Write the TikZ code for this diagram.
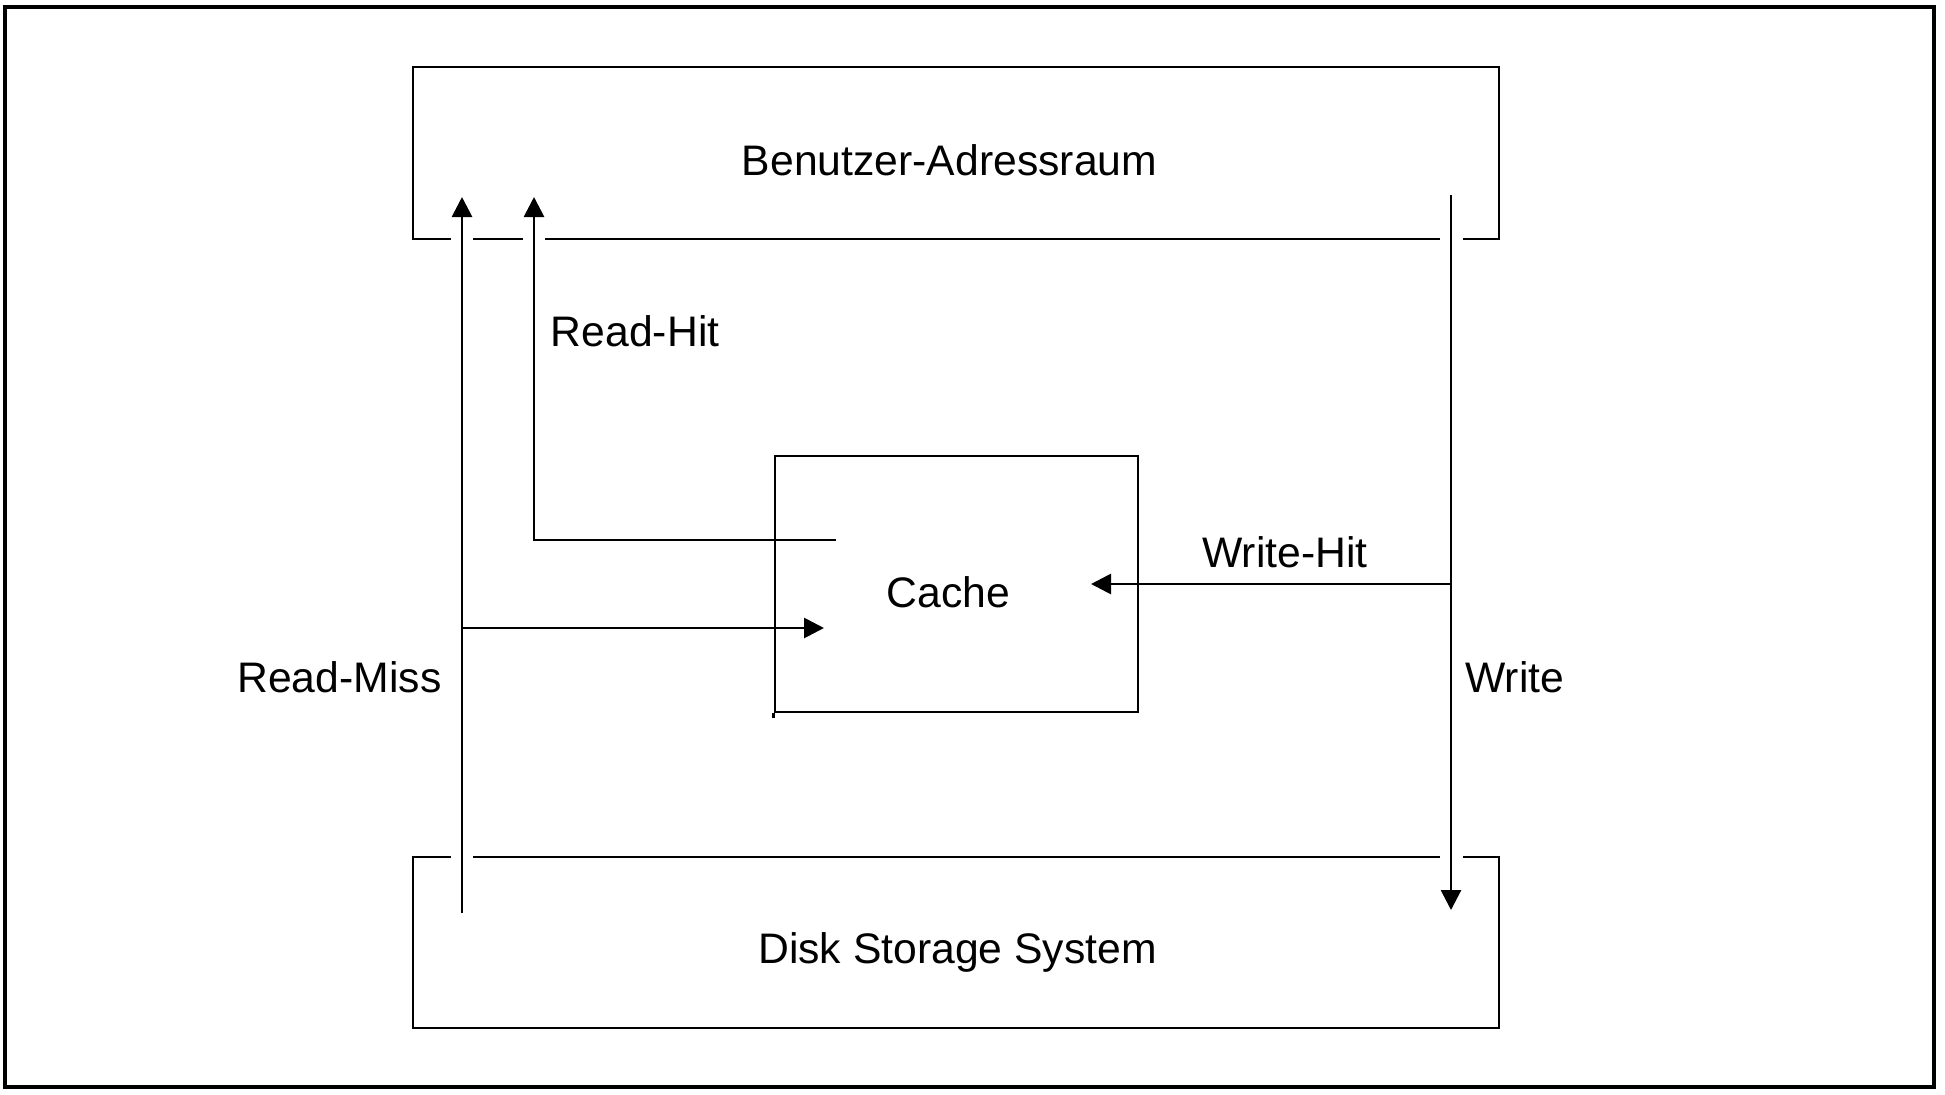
\documentclass[tikz,border=0pt]{standalone}
\usepackage{fontspec}
\setmainfont{Liberation Sans}
\usetikzlibrary{arrows.meta}
\begin{document}
\begin{tikzpicture}[x=0.5pt,y=-0.5pt, line width=1.4pt,
  arr/.style={-{Triangle[length=10pt,width=10pt]}},
  lbl/.style={inner sep=0pt, font=\fontsize{21.35pt}{25pt}\selectfont}]
\useasboundingbox (0,0) rectangle (1945,1094);
% outer frame
\draw[line width=1.8pt] (5,6.7) rectangle (1934,1087);

% user address space box (with gaps)
\coordinate (uTL) at (413,67);
\coordinate (uTR) at (1499,67);
\coordinate (uBR) at (1499,239);
\coordinate (uBL) at (413,239);
\draw (1463,239) -- (uBR) -- (uTR) -- (uTL) -- (uBL) -- (451,239);
\draw (473,239) -- (523,239);
\draw (545,239) -- (1440,239);

% disk storage box (with gaps)
\coordinate (dTL) at (413,857);
\coordinate (dTR) at (1499,857);
\coordinate (dBR) at (1499,1028);
\coordinate (dBL) at (413,1028);
\draw (473,857) -- (1440,857);
\draw (1463,857) -- (dTR) -- (dBR) -- (dBL) -- (dTL) -- (451,857);

% cache box
\node (cache) at (956.5,584) [draw, minimum width=181.5pt, minimum height=128pt, inner sep=0pt] {};
\draw (cache.south west) -- ++(0,5);

% labels
\node[lbl, anchor=base] (tUser) at (949.5,175) {Benutzer-Adressraum};
\node[lbl, anchor=base west] (tRH) at (549.5,346) {Read-Hit};
\node[lbl, anchor=base] (tCache) at (948.5,607) {Cache};
\node[lbl, anchor=base west] (tWH) at (1201,567) {Write-Hit};
\node[lbl, anchor=base west] (tW) at (1464,692) {Write};
\node[lbl, anchor=base west] (tRM) at (236,692) {Read-Miss};
\node[lbl, anchor=base] (tDisk) at (957.5,963) {Disk Storage System};

% connectors
\coordinate (rmBot) at (462,913);
\coordinate (rmTop) at (462,197);
\coordinate (rmJ) at (462,628);
\coordinate (rmEnd) at (824,628);
\coordinate (rhStart) at (836,540);
\coordinate (rhCorner) at (534,540);
\coordinate (rhTop) at (534,197);
\coordinate (wTop) at (1451,195);
\coordinate (wBot) at (1451,910);
\coordinate (whJ) at (1451,584);
\coordinate (whEnd) at (1091,584);

\draw[arr] (rmBot) -- (rmTop);
\draw[arr] (rmJ) -- (rmEnd);
\draw[arr] (rhStart) -- (rhCorner) -- (rhTop);
\draw[arr] (wTop) -- (wBot);
\draw[arr] (whJ) -- (whEnd);
\end{tikzpicture}
\end{document}
